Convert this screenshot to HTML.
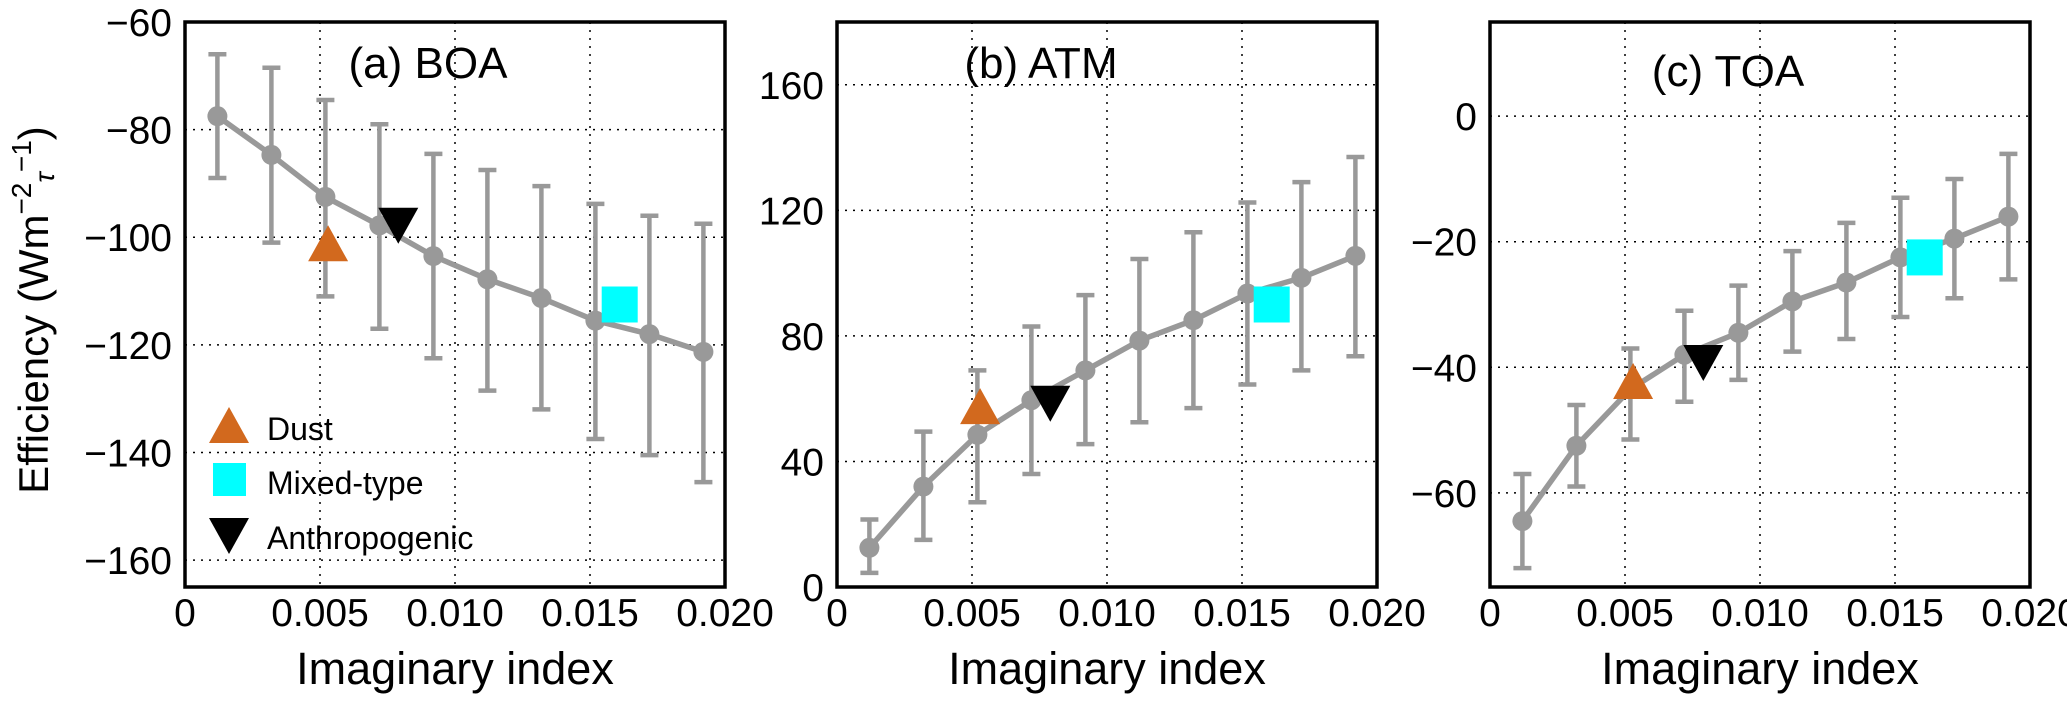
<!DOCTYPE html>
<html><head><meta charset="utf-8">
<style>
html,body{margin:0;padding:0;background:#fff;}
svg{display:block;font-family:"Liberation Sans",Arial,sans-serif;}
</style></head>
<body>
<svg id="fig" width="2067" height="702" viewBox="0 0 2067 702" xmlns="http://www.w3.org/2000/svg">
<text transform="translate(48,310) rotate(-90)" text-anchor="middle" font-size="42">Efficiency (Wm<tspan font-size="28" dy="-17">−2</tspan><tspan font-size="28" font-style="italic" dy="23">τ</tspan><tspan font-size="28" dy="-23">−1</tspan><tspan dy="17">)</tspan></text>
</svg>
<script>
const xVals = [0.0012,0.0032,0.0052,0.0072,0.0092,0.0112,0.0132,0.0152,0.0172,0.0192];
const boaMean = [-77.5,-84.7,-92.5,-97.8,-103.5,-107.8,-111.3,-115.5,-118,-121.3];
const boaHi = [-66,-68.5,-74.5,-79,-84.5,-87.5,-90.5,-93.8,-96,-97.5];
const boaLo = [-89,-101,-111,-117,-122.5,-128.5,-132,-137.5,-140.5,-145.5];
const atmMean = [12.5,32,48.5,59.5,69,78.5,85,93.5,98.5,105.5];
const atmHi = [21.5,49.5,69,83,93,104.5,113,122.5,129,137];
const atmLo = [4.5,15,27,36,45.5,52.5,57,64.5,69,73.5];
const toaMean = [-64.5,-52.5,-43.5,-38,-34.5,-29.5,-26.5,-22.5,-19.5,-16];
const toaHi = [-57,-46,-37,-31,-27,-21.5,-17,-13,-10,-6];
const toaLo = [-72,-59,-51.5,-45.5,-42,-37.5,-35.5,-32,-29,-26];
const typeX = [0.0053,0.0161,0.0079];
const boaTypes = [-101.5,-112.5,-97.5];
const atmTypes = [57,90,59];
const toaTypes = [-42.5,-22.5,-39];
const xTicks = [0,0.005,0.010,0.015,0.020];
const xTickLabels = ["0","0.005","0.010","0.015","0.020"];
const boaTicks = [-160,-140,-120,-100,-80,-60];
const atmTicks = [0,40,80,120,160];
const toaTicks = [-60,-40,-20,0];

const NS="http://www.w3.org/2000/svg";
const svg=document.getElementById('fig');
function mk(tag,attrs,parent){const e=document.createElementNS(NS,tag);for(const k in attrs)e.setAttribute(k,attrs[k]);(parent||svg).appendChild(e);return e;}

const panels=[
 {key:'boa',left:185,title:'(a) BOA',tx:428,ty:78,ymin:-165,ymax:-60,ticks:boaTicks,mean:boaMean,hi:boaHi,lo:boaLo,types:boaTypes,legend:true},
 {key:'atm',left:837,title:'(b) ATM',tx:1041,ty:78,ymin:0,ymax:180,ticks:atmTicks,mean:atmMean,hi:atmHi,lo:atmLo,types:atmTypes},
 {key:'toa',left:1490,title:'(c) TOA',tx:1728,ty:86,ymin:-75,ymax:15,ticks:toaTicks,mean:toaMean,hi:toaHi,lo:toaLo,types:toaTypes}
];
const W=540, TOP=22, BOT=587;
const GRAY='#999999', ORANGE='#d2691e', CYAN='#00ffff';

function tri(g,cx,cy,up,fill,name){
  const s=20;
  const pts= up ? `${cx},${cy-s} ${cx-s},${cy+s*0.8} ${cx+s},${cy+s*0.8}` : `${cx},${cy+s} ${cx-s},${cy-s*0.8} ${cx+s},${cy-s*0.8}`;
  const p=mk('polygon',{points:pts,fill:fill},g);
  
  
  return p;
}

panels.forEach(P=>{
  const g=mk('g',{});
  
  
  const xs=v=>P.left+v/0.020*W;
  const ys=v=>BOT-(v-P.ymin)/(P.ymax-P.ymin)*(BOT-TOP);
  xTicks.forEach((t,i)=>{
    const x=xs(t);
    if(i>0&&i<xTicks.length-1){
      const l=mk('line',{x1:x,x2:x,y1:TOP,y2:BOT,stroke:'#000','stroke-width':1.5,'stroke-dasharray':'2,6'},g);
      
      
    }
    const tl=mk('text',{x:x,y:626,'text-anchor':'middle','font-size':39},g);
    tl.textContent=xTickLabels[i];
    
    
  });
  P.ticks.forEach(t=>{
    const y=ys(t);
    const l=mk('line',{x1:P.left,x2:P.left+W,y1:y,y2:y,stroke:'#000','stroke-width':1.5,'stroke-dasharray':'2,6'},g);
    
    
    const tl=mk('text',{x:P.left-13,y:y+14,'text-anchor':'end','font-size':39},g);
    tl.textContent=(t<0?'\u2212':'')+Math.abs(t);
    
    
  });
  xVals.forEach((xv,i)=>{
    const x=xs(xv);
    const e=mk('g',{stroke:GRAY,'stroke-width':4.5},g);
    
    
    mk('line',{x1:x,x2:x,y1:ys(P.hi[i]),y2:ys(P.lo[i])},e);
    mk('line',{x1:x-9,x2:x+9,y1:ys(P.hi[i]),y2:ys(P.hi[i])},e);
    mk('line',{x1:x-9,x2:x+9,y1:ys(P.lo[i]),y2:ys(P.lo[i])},e);
  });
  const pl=mk('polyline',{points:xVals.map((xv,i)=>xs(xv)+','+ys(P.mean[i])).join(' '),fill:'none',stroke:GRAY,'stroke-width':5.5},g);
  
  
  xVals.forEach((xv,i)=>{
    const c=mk('circle',{cx:xs(xv),cy:ys(P.mean[i]),r:10,fill:GRAY},g);
    
    
  });
  tri(g,xs(typeX[0]),ys(P.types[0]),true,ORANGE,'dust-marker');
  const sq=mk('rect',{x:xs(typeX[1])-18,y:ys(P.types[1])-18,width:36,height:36,fill:CYAN},g);
  
  
  tri(g,xs(typeX[2]),ys(P.types[2]),false,'#000','anthropogenic-marker');
  const fr=mk('rect',{x:P.left,y:TOP,width:W,height:BOT-TOP,fill:'none',stroke:'#000','stroke-width':3.5},g);
  
  
  const tt=mk('text',{x:P.tx,y:P.ty,'text-anchor':'middle','font-size':44},g);
  tt.textContent=P.title;
  
  
  const xl=mk('text',{x:P.left+W/2,y:684,'text-anchor':'middle','font-size':45},g);
  xl.textContent='Imaginary index';
  
  
  if(P.legend){
    const lg=mk('g',{},g);
    
    
    tri(lg,229,427,true,ORANGE,'legend-dust-symbol');
    const r=mk('rect',{x:213,y:463,width:33,height:33,fill:CYAN},lg);
    
    
    tri(lg,229,534,false,'#000','legend-anthropogenic-symbol');
    [['Dust',440,'legend-entry-dust'],['Mixed-type',494,'legend-entry-mixed-type'],['Anthropogenic',549,'legend-entry-anthropogenic']].forEach(a=>{
      const t=mk('text',{x:267,y:a[1],'font-size':32},lg);
      t.textContent=a[0];
      
      
    });
  }
});
</script>
</body></html>
